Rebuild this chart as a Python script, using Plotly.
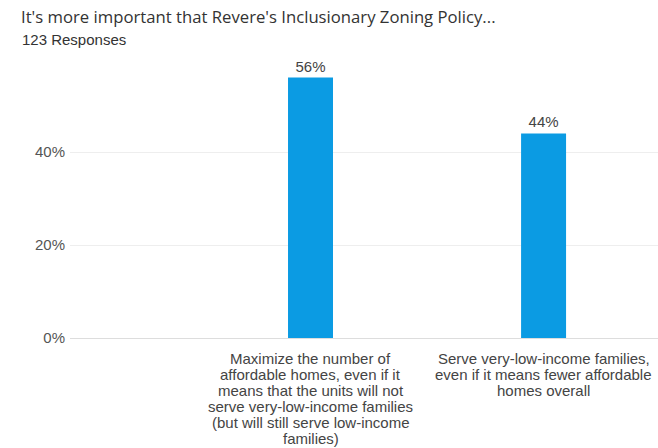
import plotly.graph_objects as go

# Survey results
categories = [
    "Maximize the number of<br>affordable homes, even if it<br>means that the units will not<br>serve very-low-income families<br>(but will still serve low-income<br>families)",
    "Serve very-low-income families,<br>even if it means fewer affordable<br>homes overall",
]
shares = [0.56, 0.44]
y_ticks = [0, 0.2, 0.4]
y_tick_labels = ["0%", "20%", "40%"]

title_text = "It's more important that Revere's Inclusionary Zoning Policy..."
subtitle_text = "123 Responses"

FONT = "Liberation Sans, Arial, sans-serif"
TEXT_COLOR = "#444444"

# Plot area geometry (pixels)
W, H = 658, 448
L, R, T, B = 70, 0, 59, 110
plot_h = H - T - B
plot_w = W - L - R


def py(pixel_y):
    """Convert a pixel row to paper y."""
    return 1 - (pixel_y - T) / plot_h


positions = list(range(len(categories)))

fig = go.Figure()
fig.add_trace(go.Bar(
    x=positions,
    y=shares,
    width=0.193,
    marker=dict(color="#0b9be3", line=dict(width=0)),
    text=[f"{round(v * 100)}%" for v in shares],
    textposition="outside",
    textfont=dict(family=FONT, size=15, color=TEXT_COLOR),
    cliponaxis=False,
    hoverinfo="skip",
))

# Category labels under each bar, one annotation per line for tight leading
line_gap = 16
for pos, label in zip(positions, categories):
    for i, line in enumerate(label.split("<br>")):
        fig.add_annotation(
            x=pos, xref="x", y=py(358 + i * line_gap), yref="paper",
            yanchor="middle", xanchor="center",
            text=line, showarrow=False, align="center",
            font=dict(family=FONT, size=15, color=TEXT_COLOR),
        )

# Subtitle
fig.add_annotation(
    x=(21 - L) / plot_w, xref="paper", y=py(40), yref="paper",
    text=subtitle_text, showarrow=False, xanchor="left", yanchor="middle",
    xshift=-1,
    font=dict(family=FONT, size=15, color="#333333"),
)

fig.update_layout(
    width=W, height=H,
    margin=dict(l=L, r=R, t=T, b=B),
    paper_bgcolor="white",
    plot_bgcolor="white",
    showlegend=False,
    title=dict(
        text=title_text,
        x=21 / W, xanchor="left", xref="container",
        y=1 - 17 / H, yanchor="middle", yref="container",
        font=dict(family="Open Sans, sans-serif", size=16.7, color="#333333"),
    ),
    xaxis=dict(
        range=[-1.032, 1.491],
        showticklabels=False, showgrid=False, zeroline=False,
        showline=False, ticks="",
    ),
    yaxis=dict(
        range=[0, 0.6],
        tickvals=y_ticks, ticktext=y_tick_labels,
        tickfont=dict(family=FONT, size=15, color="#555555"),
        showgrid=True, gridcolor="#eeeeee", gridwidth=1,
        zeroline=True, zerolinecolor="#dddddd", zerolinewidth=1,
        showline=False, ticks="", ticklabelstandoff=4,
    ),
)

fig.write_html("out.html")
